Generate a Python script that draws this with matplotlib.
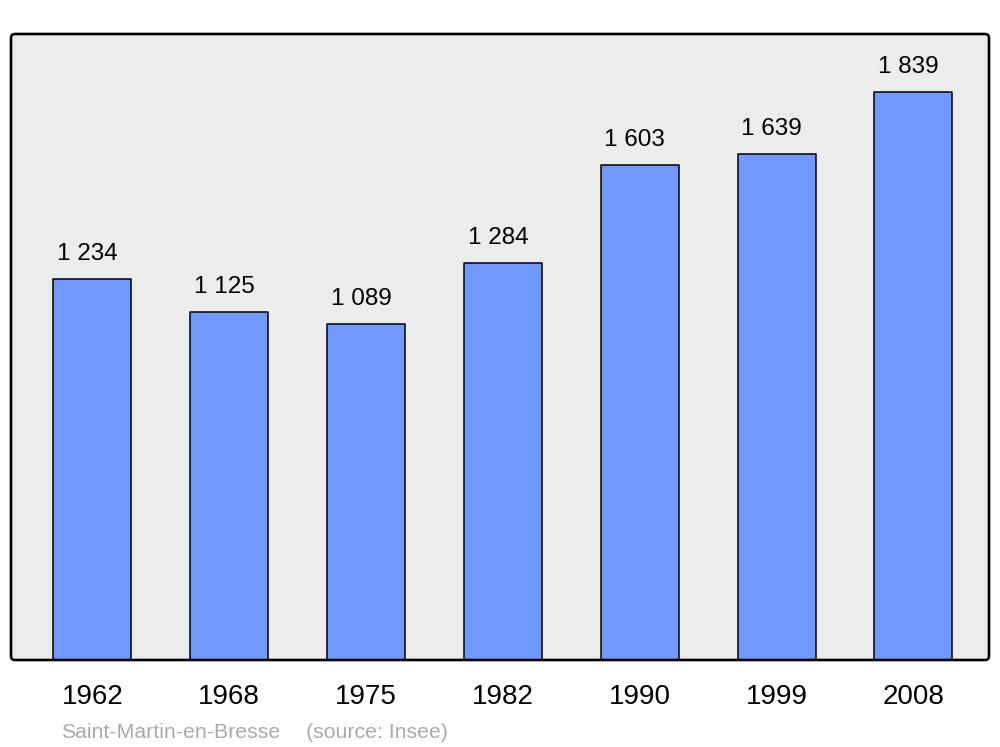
import matplotlib.pyplot as plt
from matplotlib.patches import FancyBboxPatch

years = ['1962', '1968', '1975', '1982', '1990', '1999', '2008']
population = [1234, 1125, 1089, 1284, 1603, 1639, 1839]
labels = ['1 234', '1 125', '1 089', '1 284', '1 603', '1 639', '1 839']

plt.rcParams['font.family'] = ['Liberation Sans', 'DejaVu Sans']

fig = plt.figure(figsize=(10, 7.47), dpi=100)
ax = fig.add_axes([0.011, 87 / 747, 0.978, 626 / 747])
ax.patch.set_visible(False)
for s in ax.spines.values():
    s.set_visible(False)

# rounded frame, in inches
box = dict(boxstyle='round,pad=0,rounding_size=0.04', transform=fig.dpi_scale_trans)
fill = FancyBboxPatch((0.11, 0.87), 9.78, 6.26, facecolor='#ececec', edgecolor='none', zorder=0, **box)
edge = FancyBboxPatch((0.11, 0.87), 9.78, 6.26, facecolor='none', edgecolor='black', linewidth=1.9, zorder=5, **box)
for p in (fill, edge):
    ax.add_patch(p)
    p.set_clip_on(False)

x = range(len(years))
bars = ax.bar(x, population, width=0.57, color='#7399ff', edgecolor='black', linewidth=1.1, zorder=2)
for b in bars:
    b.set_joinstyle('round')

for i, v in enumerate(population):
    ax.annotate(labels[i], (i, v), xytext=(-5, 19), textcoords='offset pixels',
                ha='center', va='baseline', fontsize=17.5, color='black')

ax.set_xlim(-0.595, 6.552)
ax.set_ylim(0, 2026)
ax.set_yticks([])
ax.set_xticks(list(x))
ax.set_xticklabels(years, fontsize=20)
ax.tick_params(axis='x', length=0, pad=17)

fig.text(0.061, 0.012, 'Saint-Martin-en-Bresse', fontsize=15.3, color='#aaaaaa', ha='left', va='baseline')
fig.text(0.306, 0.012, '(source: Insee)', fontsize=15.3, color='#aaaaaa', ha='left', va='baseline')

fig.savefig('out.png', dpi=100)
